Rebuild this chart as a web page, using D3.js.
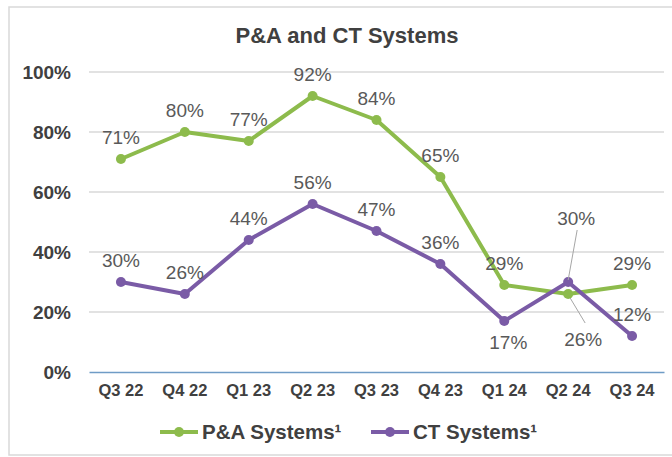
<!DOCTYPE html>
<html>
<head>
<meta charset="utf-8">
<script src="https://cdn.jsdelivr.net/npm/d3@7"></script>
<style>
  body { margin: 0; background: #fff; }
  text { font-family: "Liberation Sans", Arial, sans-serif; }
</style>
</head>
<body>
<svg id="chart" width="672" height="457"></svg>
<script>
// data
const quarters = ["Q3 22", "Q4 22", "Q1 23", "Q2 23", "Q3 23", "Q4 23", "Q1 24", "Q2 24", "Q3 24"];
const paSystems = [71, 80, 77, 92, 84, 65, 29, 26, 29];
const ctSystems = [30, 26, 44, 56, 47, 36, 17, 30, 12];
const yTicks = [0, 20, 40, 60, 80, 100];
const seriesNames = ["P&A Systems\u00b9", "CT Systems\u00b9"];

const green = "#8dbb4c",
  purple = "#7a5ba6",
  textDark = "#404040",
  labelGray = "#595959";

var svg = d3.select("#chart");

// outer frame
svg.append("rect")
  .attr("x", 9).attr("y", 7)
  .attr("width", 700).attr("height", 448)
  .attr("fill", "none")
  .attr("stroke", "#d9d9d9")
  .attr("stroke-width", 1.5);

svg.append("text")
  .attr("x", 347).attr("y", 43)
  .attr("text-anchor", "middle")
  .attr("font-size", 22).attr("font-weight", "bold")
  .attr("fill", textDark)
  .text("P&A and CT Systems");

var xScale = d3.scaleBand().domain(quarters).range([89, 664]),
  yScale = d3.scaleLinear().domain([0, 100]).range([372, 72]);

var cx = (d) => xScale(d) + xScale.bandwidth() / 2;

// gridlines
svg.append("g")
  .selectAll("line")
  .data(yTicks.filter((d) => d > 0))
  .enter()
  .append("line")
  .attr("x1", 89).attr("x2", 664)
  .attr("y1", (d) => yScale(d)).attr("y2", (d) => yScale(d))
  .attr("stroke", "#d9d9d9")
  .attr("stroke-width", 1.5);

// y axis labels
var yAxis = svg.append("g")
  .attr("transform", "translate(89,0)")
  .call(d3.axisLeft(yScale).tickValues(yTicks).tickSize(0).tickPadding(18).tickFormat((d) => d + "%"));
yAxis.select(".domain").remove();
yAxis.selectAll("text")
  .attr("font-family", "Liberation Sans, Arial, sans-serif")
  .attr("font-size", 19).attr("font-weight", "bold")
  .attr("fill", textDark);

// x axis with zero line
var xAxis = svg.append("g")
  .attr("transform", "translate(0," + yScale(0) + ")")
  .call(d3.axisBottom(xScale).tickSize(0).tickPadding(12));
xAxis.select(".domain")
  .attr("stroke", "#6f9cc6")
  .attr("stroke-width", 1.5);
xAxis.selectAll("text")
  .attr("font-family", "Liberation Sans, Arial, sans-serif")
  .attr("font-size", 16.5).attr("font-weight", "bold")
  .attr("fill", textDark);

var line = d3.line()
  .x((d, i) => cx(quarters[i]))
  .y((d) => yScale(d));

function drawSeries(values, color, labelShift) {
  var g = svg.append("g");
  g.append("path")
    .datum(values)
    .attr("d", line)
    .attr("fill", "none")
    .attr("stroke", color)
    .attr("stroke-width", 4)
    .attr("stroke-linejoin", "round");
  g.selectAll("circle")
    .data(values)
    .enter()
    .append("circle")
    .attr("cx", (d, i) => cx(quarters[i]))
    .attr("cy", (d) => yScale(d))
    .attr("r", 5)
    .attr("fill", color);
  values.forEach((d, i) => {
    var s = labelShift[i] || { dx: 0, dy: -22 };
    var px = cx(quarters[i]), py = yScale(d);
    if (s.leader) {
      g.append("line")
        .attr("x1", px + s.leader[0]).attr("y1", py + s.leader[1])
        .attr("x2", px + s.leader[2]).attr("y2", py + s.leader[3])
        .attr("stroke", "#a6a6a6")
        .attr("stroke-width", 1);
    }
    g.append("text")
      .attr("x", px + s.dx)
      .attr("y", py + s.dy)
      .attr("dy", "0.35em")
      .attr("text-anchor", "middle")
      .attr("font-size", 19)
      .attr("fill", labelGray)
      .text(d + "%");
  });
}

drawSeries(paSystems, green, {
  7: { dx: 15, dy: 45, leader: [2, 4, 17, 29] }
});
drawSeries(ctSystems, purple, {
  6: { dx: 4, dy: 21 },
  7: { dx: 8, dy: -64, leader: [0, -2, 9, -52] }
});

// legend
var legend = svg.append("g");
var legendItems = [
  { name: seriesNames[0], color: green, x: 160 },
  { name: seriesNames[1], color: purple, x: 371 }
];
legendItems.forEach((it) => {
  legend.append("line")
    .attr("x1", it.x).attr("x2", it.x + 38)
    .attr("y1", 432).attr("y2", 432)
    .attr("stroke", it.color).attr("stroke-width", 4);
  legend.append("circle")
    .attr("cx", it.x + 19).attr("cy", 432).attr("r", 5)
    .attr("fill", it.color);
  legend.append("text")
    .attr("x", it.x + 42).attr("y", 439)
    .attr("font-size", 20.5).attr("font-weight", "bold")
    .attr("fill", textDark)
    .text(it.name);
});
</script>
</body>
</html>
